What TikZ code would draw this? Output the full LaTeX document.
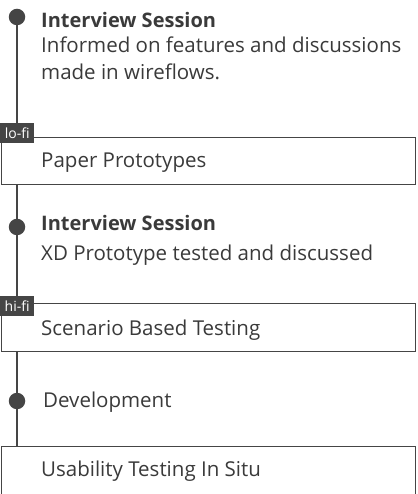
\documentclass[tikz,border=0pt]{standalone}
\usepackage{fontspec}
\setmainfont{Open Sans}
\definecolor{ink}{HTML}{3A3A3A}
\definecolor{lin}{HTML}{454545}
\begin{document}
\begin{tikzpicture}[x=1pt,y=1pt,
  dot/.style={circle,fill=lin,inner sep=0pt,minimum size=16.5pt},
  stage/.style={draw=lin,line width=1.4pt,rectangle,inner sep=0pt,anchor=south west},
  txt/.style={anchor=base west,inner sep=0pt,text=ink,font=\fontsize{20.5}{24}\selectfont},
  ttl/.style={txt,font=\fontsize{20}{24}\selectfont\bfseries},
  tag/.style={fill=lin,text=white,inner sep=0pt,minimum width=34pt,minimum height=20pt,anchor=south west,font=\fontsize{14}{16}\selectfont},
  conn/.style={draw=lin,line width=1.4pt}]
\useasboundingbox (0,0) rectangle (417,494);
\clip (0,0) rectangle (417,494);
% stage boxes
\node[stage,minimum width=414pt,minimum height=47pt] (b1) at (1,309) {};
\node[stage,minimum width=414pt,minimum height=48pt] (b2) at (1,142) {};
\node[stage,minimum width=414pt,minimum height=60pt] (b3) at (1,-13) {};
% dots
\node[dot] (d1) at (17,477) {};
\node[dot] (d2) at (17,267) {};
\node[dot] (d3) at (17,93) {};
% timeline connectors
\draw[conn] (d1) -- (d1 |- b1.north);
\draw[conn] (d1 |- b1.south) -- (d2);
\draw[conn] (d2) -- (d2 |- b2.north);
\draw[conn] (d2 |- b2.south) -- (d3);
\draw[conn] (d3) -- (d3 |- b3.north);
% tags
\node[tag] (t1) at (0,351) {lo-fi};
\node[tag] (t2) at (0,178) {hi-fi};
% texts
\node[ttl] (s1) at (41,466) {Interview Session};
\node[txt] (s1a) at (41,441) {Informed on features and discussions};
\node[txt] (s1b) at (41,414) {made in wireflows.};
\node[txt] (p1) at (41,326) {Paper Prototypes};
\node[ttl] (s2) at (41,263) {Interview Session};
\node[txt] (s2a) at (41,233) {XD Prototype tested and discussed};
\node[txt] (p2) at (41,158) {Scenario Based Testing};
\node[txt] (s3) at (43,86) {Development};
\node[txt] (p3) at (41,17) {Usability Testing In Situ};
\end{tikzpicture}
\end{document}
